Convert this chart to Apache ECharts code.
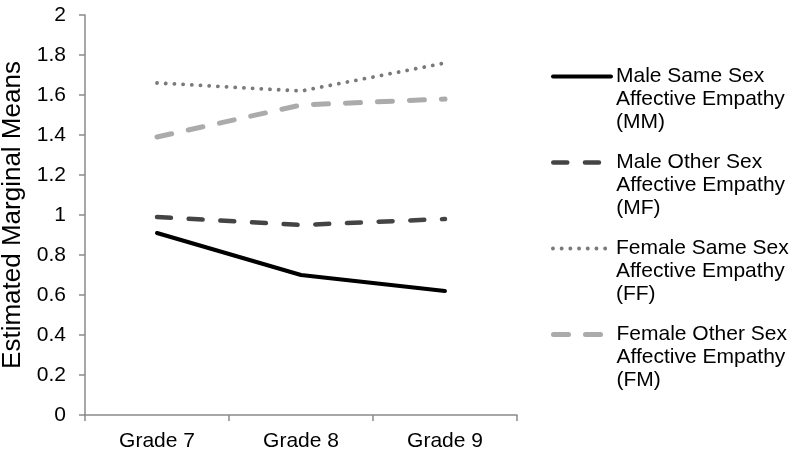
<!DOCTYPE html>
<html>
<head>
<meta charset="utf-8">
<script src="https://cdn.jsdelivr.net/npm/echarts@6/dist/echarts.min.js"></script>
<style>
  html, body { margin: 0; padding: 0; background: #fff; }
  #chart { width: 799px; height: 455px; }
</style>
</head>
<body>
<div id="chart"></div>
<script>
const categories = ['Grade 7', 'Grade 8', 'Grade 9'];
const seriesNames = [
  'Male Same Sex Affective Empathy (MM)',
  'Male Other Sex Affective Empathy (MF)',
  'Female Same Sex Affective Empathy (FF)',
  'Female Other Sex Affective Empathy (FM)'
];
const legendLines = [
  ['Male Same Sex', 'Affective Empathy', '(MM)'],
  ['Male Other Sex', 'Affective Empathy', '(MF)'],
  ['Female Same Sex', 'Affective Empathy', '(FF)'],
  ['Female Other Sex', 'Affective Empathy', '(FM)']
];
const mmValues = [0.91, 0.70, 0.62];
const mfValues = [0.99, 0.95, 0.98];
const ffValues = [1.66, 1.62, 1.76];
const fmValues = [1.39, 1.55, 1.58];
const yMin = 0, yMax = 2, yStep = 0.2;
const yTitle = 'Estimated Marginal Means';

const FONT = '"Liberation Sans", Arial, Helvetica, sans-serif';
const styles = [
  { color: '#000000', width: 4, type: 'solid' },
  { color: '#444444', width: 4.5, type: [14, 17.7] },
  { color: '#7a7a7a', width: 3.8, type: [0.1, 8.6] },
  { color: '#ababab', width: 5, type: [15, 17] }
];
const allValues = [mmValues, mfValues, ffValues, fmValues];

const chart = echarts.init(document.getElementById('chart'), null, { renderer: 'canvas' });

const legendTops = [19, 105, 191, 277];
const legends = seriesNames.map((name, i) => ({
  show: true,
  data: [name],
  orient: 'vertical',
  left: 551,
  top: legendTops[i],
  padding: 0,
  itemWidth: 58,
  itemHeight: 14,
  selectedMode: false,
  itemStyle: { opacity: 0 },
  lineStyle: {
    color: styles[i].color,
    width: styles[i].width,
    type: styles[i].type,
    cap: 'round'
  },
  formatter: () => '\n\n' + legendLines[i].join('\n'),
  textStyle: { fontFamily: FONT, fontSize: 21, lineHeight: 23, color: '#000' }
}));

const series = seriesNames.map((name, i) => ({
  name: name,
  type: 'line',
  data: allValues[i],
  symbol: 'none',
  smooth: false,
  silent: true,
  animation: false,
  lineStyle: {
    color: styles[i].color,
    width: styles[i].width,
    type: styles[i].type,
    cap: 'round',
    join: 'round'
  },
  itemStyle: { color: styles[i].color },
  z: 10 - i
}));

chart.setOption({
  animation: false,
  backgroundColor: '#ffffff',
  grid: { left: 85, right: 282, top: 15, bottom: 40, containLabel: false, outerBoundsMode: 'none' },
  legend: legends,
  xAxis: {
    type: 'category',
    data: categories,
    boundaryGap: true,
    axisLine: { show: true, lineStyle: { color: '#8a8a8a', width: 1.5 } },
    axisTick: { show: true, length: 6, alignWithLabel: false, lineStyle: { color: '#8a8a8a', width: 1.5 } },
    axisLabel: { fontFamily: FONT, fontSize: 21, color: '#000', margin: 16 },
    splitLine: { show: false }
  },
  yAxis: {
    type: 'value',
    min: yMin,
    max: yMax,
    interval: yStep,
    name: yTitle,
    nameLocation: 'middle',
    nameRotate: 90,
    nameGap: 52,
    nameTextStyle: { fontFamily: FONT, fontSize: 26, color: '#000' },
    axisLine: { show: true, lineStyle: { color: '#8a8a8a', width: 1.5 } },
    axisTick: { show: true, length: 6, inside: false, lineStyle: { color: '#8a8a8a', width: 1.5 } },
    axisLabel: { fontFamily: FONT, fontSize: 21, color: '#000', margin: 19 },
    splitLine: { show: false }
  },
  series: series
});
</script>
</body>
</html>
